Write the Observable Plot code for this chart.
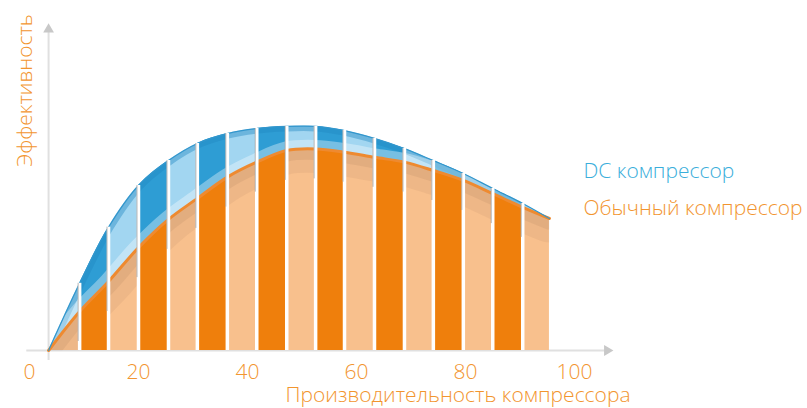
<!DOCTYPE html>
<html><head><meta charset="utf-8">
<script src="https://cdn.jsdelivr.net/npm/d3@7"></script>
<script src="https://cdn.jsdelivr.net/npm/@observablehq/plot@0.6"></script>
<style>
body{margin:0;background:#fff;}
svg text{font-weight:300;}
</style></head><body><div id="chart"></div>
<script>
// stripe boundaries along the x axis (compressor capacity, %)
const xBounds = [3.5, 9.2, 14.5, 20.0, 25.5, 30.8, 36.3, 41.7, 47.2, 52.5, 57.8, 63.3, 68.8, 74.1, 79.6, 85.0, 90.5, 95.4];
// efficiency of DC compressor (upper curve)
const dcValues = [0, 22.4, 41.1, 55, 63.3, 69, 72.3, 74, 74.7, 74.7, 73.3, 70.7, 67.3, 63.3, 59, 54, 49, 44];
// efficiency of conventional compressor (lower curve)
const regularValues = [0, 13, 23, 34.3, 43.7, 50.7, 57.8, 62.8, 66.7, 67.2, 66.1, 64.4, 62.8, 60, 56.7, 52.3, 47.7, 44];
const xTicks = [0, 20, 40, 60, 80, 100];
const seriesNames = ["DC компрессор", "Обычный компрессор"];
const xTitle = "Производительность компрессора";
const yTitle = "Эффективность";
const xAxisExtent = [-0.5, 106];
const yAxisExtent = [-3.3, 107];

const ORANGE_TEXT = "#f2952f";
const BLUE_TEXT = "#3aaedb";
const C = {
  orangeLight: "#f8c08d", orangeDark: "#ef7f0c", orangeShade: "#6b4a3a", orangeShade2: "#6b4a3b",
  blueLight: "#a2d6f1", blueDark: "#2e9dd4", blueRim: "#2288c2", glow: "#fefefe"
};

const data = xBounds.map((x, i) => ({x, dc: dcValues[i], reg: regularValues[i]}));
const stripes = d3.range(xBounds.length - 1).map(i => ({x1: xBounds[i], x2: xBounds[i + 1], dark: i % 2 === 1}));
const darkStripes = stripes.filter(d => d.dark);
const inner = data.slice(1, -1);
const last = data[data.length - 1];
const curve = "catmull-rom";

const svg = Plot.plot({
  width: 807,
  height: 408,
  marginLeft: 29,
  marginRight: 233,
  marginTop: 50,
  marginBottom: 58,
  style: {fontFamily: "'Open Sans', sans-serif", fontSize: "21px", background: "#fff"},
  x: {domain: [0, 100]},
  y: {domain: [0, 100], axis: null},
  marks: [
    // axes
    Plot.ruleY([0], {x1: xAxisExtent[0], x2: xAxisExtent[1], stroke: "#e0e0e0", strokeWidth: 2, clip: false}),
    Plot.ruleX([xBounds[0]], {y1: yAxisExtent[0], y2: yAxisExtent[1], stroke: "#e0e0e0", strokeWidth: 2, clip: false}),
    Plot.dot([{x: xAxisExtent[1], y: 0}], {x: "x", y: "y", symbol: "triangle", rotate: 90, r: 4, fill: "#c8c8c8"}),
    Plot.dot([{x: xBounds[0], y: yAxisExtent[1]}], {x: "x", y: "y", symbol: "triangle", r: 4, fill: "#c8c8c8"}),
    Plot.axisX({ticks: xTicks, tickSize: 0, tickPadding: 14, fontSize: 21, color: ORANGE_TEXT, label: null}),
    // conventional compressor area, striped
    Plot.areaY(data, {x: "x", y: "reg", fill: C.orangeLight, curve}),
    Plot.line(data, {x: "x", y: "reg", stroke: C.orangeShade, strokeOpacity: 0.07, strokeWidth: 48, curve}),
    Plot.line(data, {x: "x", y: "reg", stroke: C.orangeShade2, strokeOpacity: 0.09, strokeWidth: 22, curve}),
    Plot.rectY(darkStripes, {x1: "x1", x2: "x2", y1: 0, y2: 100, fill: C.orangeDark}),
    // DC band, striped
    Plot.areaY(data, {x: "x", y1: "reg", y2: "dc", fill: C.blueLight, curve}),
    Plot.rectY(darkStripes, {x1: "x1", x2: "x2", y1: 0, y2: 100, fill: C.blueDark}),
    Plot.line(data, {x: "x", y: "dc", stroke: C.blueRim, strokeOpacity: 0.42, strokeWidth: 10, curve}),
    Plot.line(data, {x: "x", y: "reg", stroke: C.glow, strokeOpacity: 0.35, strokeWidth: 18, curve}),
    // curve edges
    Plot.line(data, {x: "x", y: "reg", stroke: "#ee8a30", strokeWidth: 3, curve}),
    Plot.line(data, {x: "x", y: "dc", stroke: "#3396cc", strokeWidth: 1.2, curve}),
    // separators
    Plot.ruleX(inner, {x: "x", y1: 0, y2: "dc", stroke: "#ffffff", strokeWidth: 3.5}),
    Plot.ruleX(inner, {x: "x", y1: d => d.reg - 10, y2: "dc", stroke: "#a4a4a4", strokeWidth: 1, dx: -1.5, strokeOpacity: 0.8}),
    // legend labels next to the curve ends
    Plot.text([last], {x: "x", y: "dc", text: () => seriesNames[0], textAnchor: "start", dx: 34, dy: -47, fill: BLUE_TEXT, fontSize: 21}),
    Plot.text([last], {x: "x", y: "reg", text: () => seriesNames[1], textAnchor: "start", dx: 34, dy: -10, fill: ORANGE_TEXT, fontSize: 21}),
    // axis titles
    Plot.text([xTitle], {text: d => d, frameAnchor: "bottom", dx: 156, dy: 51, fill: ORANGE_TEXT, fontSize: 21}),
    Plot.text([yTitle], {text: d => d, frameAnchor: "top-left", textAnchor: "middle", rotate: -90, lineAnchor: "bottom", dx: 2, dy: 40, fill: ORANGE_TEXT, fontSize: 21})
  ]
});

// clip the stripe layers to their areas
const ns = "http://www.w3.org/2000/svg";
const defs = document.createElementNS(ns, "defs");
svg.insertBefore(defs, svg.firstChild);
function findGroup(attr, value) {
  return Array.from(svg.querySelectorAll("g")).find(g => (g.getAttribute(attr) || "").toLowerCase() === value.toLowerCase());
}
function clipTo(srcColor, targets, id) {
  const srcG = findGroup("fill", srcColor);
  if (!srcG) return;
  const src = srcG.querySelector("path");
  const cp = document.createElementNS(ns, "clipPath");
  cp.setAttribute("id", id);
  const p = document.createElementNS(ns, "path");
  p.setAttribute("d", src.getAttribute("d"));
  if (srcG.getAttribute("transform")) p.setAttribute("transform", srcG.getAttribute("transform"));
  cp.appendChild(p);
  defs.appendChild(cp);
  for (const [attr, value] of targets) {
    const g = findGroup(attr, value);
    if (g) g.setAttribute("clip-path", `url(#${id})`);
  }
}
clipTo(C.orangeLight, [["fill", C.orangeDark], ["stroke", C.orangeShade], ["stroke", C.orangeShade2]], "clipOrange");
clipTo(C.blueLight, [["fill", C.blueDark], ["stroke", C.blueRim], ["stroke", C.glow]], "clipBlue");

document.getElementById("chart").appendChild(svg);
</script></body></html>
